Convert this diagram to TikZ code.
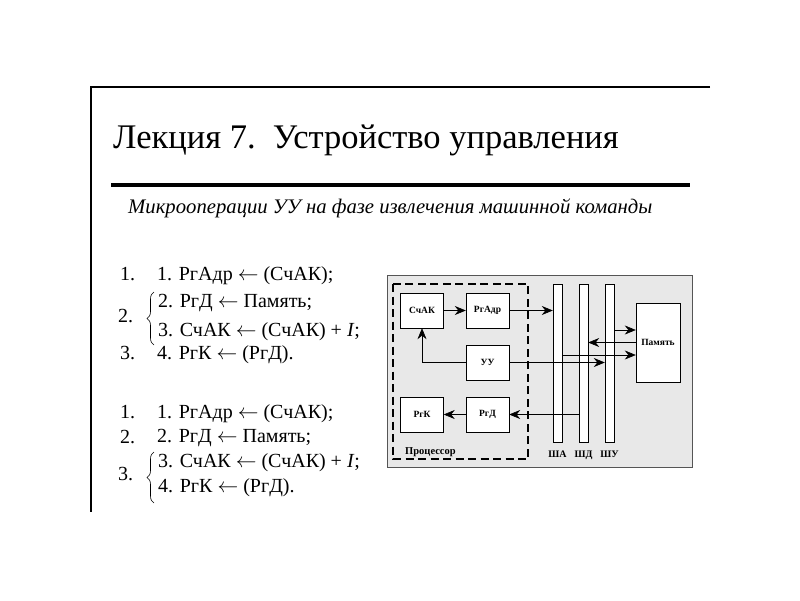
\documentclass[tikz,border=0pt]{standalone}
\usepackage{fontspec}
\setmainfont{Liberation Serif}
\usetikzlibrary{arrows.meta,decorations.pathreplacing}
\definecolor{panelgray}{RGB}{232,232,232}
\definecolor{framegray}{RGB}{85,85,85}
\newcommand{\la}{$\leftarrow$}
\tikzset{
  blk/.style={draw,fill=white,minimum width=43pt,minimum height=35pt,inner sep=0pt,font=\bfseries\fontsize{9.5}{11}\selectfont},
  bus/.style={draw,fill=white,minimum width=9pt,minimum height=158pt,inner sep=0pt},
  buslbl/.style={anchor=base,font=\bfseries\fontsize{10}{11}\selectfont,inner sep=0pt},
  arr/.style={-{Stealth[length=11pt,width=9pt]},line width=0.6pt},
  op/.style={anchor=base west,font=\fontsize{20}{24}\selectfont,inner sep=0pt},
  brc/.style={decorate,decoration={brace,amplitude=7pt},line width=0.6pt},
}
\begin{document}
\begin{tikzpicture}[x=1pt,y=-1pt]
    \useasboundingbox[fill=white] (0,0) rectangle (800,600);
    % frame and heading
    \draw[line width=1.2pt] (710,87) -- (91,87) -- (91,512);
    \node[anchor=base west,inner sep=0pt,font=\fontsize{34.5}{40}\selectfont] (title) at (113,148) {Лекция 7.\ \ Устройство управления};
    \draw[line width=4.5pt] (111,185) -- (690,185);
    \node[anchor=base west,inner sep=0pt,font=\itshape\fontsize{20.7}{24}\selectfont] (sub) at (128,213) {Микрооперации УУ на фазе извлечения машинной команды};
    % first ordering
    \node[op] (a1) at (120,280) {1.};
    \node[op] (a2) at (118,322) {2.};
    \node[op] (a3) at (120,359) {3.};
    \node[op] (p1) at (157,280) {1. РгАдр \la{} (СчАК);};
    \node[op] (p2) at (158,307) {2. РгД \la{} Память;};
    \node[op] (p3) at (158,336) {3. СчАК \la{} (СчАК) + \textit{I};};
    \node[op] (p4) at (157,359) {4. РгК \la{} (РгД).};
    \draw[brc] (154,345) -- (154,292);
    % second ordering
    \node[op] (b1) at (120,418) {1.};
    \node[op] (b2) at (120,443) {2.};
    \node[op] (b3) at (118,480) {3.};
    \node[op] (q1) at (157,418) {1. РгАдр \la{} (СчАК);};
    \node[op] (q2) at (157,442) {2. РгД \la{} Память;};
    \node[op] (q3) at (158,467) {3. СчАК \la{} (СчАК) + \textit{I};};
    \node[op] (q4) at (158,492) {4. РгК \la{} (РгД).};
    \draw[brc] (154,503) -- (154,452);
    % scheme
    \draw[framegray,fill=panelgray] (387,275) rectangle (692,467);
    \draw[line width=1.8pt,dash pattern=on 8pt off 4.5pt] (393,284) rectangle (528,459);
    \node[anchor=base west,inner sep=0pt,font=\bfseries\fontsize{10.5}{12}\selectfont] (cpu) at (405,454) {Процессор};
    \node[bus] (sha) at (557.5,363) {};
    \node[bus] (shd) at (583.5,363) {};
    \node[bus] (shu) at (609.5,363) {};
    \node[buslbl] at (557.5,457) {ША};
    \node[buslbl] at (583.5,457) {ШД};
    \node[buslbl] at (609.5,457) {ШУ};
    \node[blk] (schak) at (422,310.5) {СчАК};
    \node[blk] (rgadr) at (487.5,310.5) {РгАдр};
    \node[blk] (uu) at (487.5,362.5) {УУ};
    \node[blk] (rgk) at (422,414.5) {РгК};
    \node[blk] (rgd) at (487.5,414.5) {РгД};
    \node[blk,minimum width=44pt,minimum height=79pt] (pam) at (658,342.5) {Память};
    \coordinate (pin) at ([yshift=12.5pt]pam.west);
    \coordinate (pout) at ([yshift=-12.5pt]pam.west);
    \draw[arr] (schak) -- (rgadr);
    \draw[arr] (rgadr.east) -- (rgadr.east -| sha.west);
    \draw[arr] (uu.west) -| (schak.south);
    \draw[arr] (uu.east) -- (uu.east -| shu.west);
    \draw[arr] (pin -| shu.east) -- (pin);
    \draw[arr] (pam.west) -- (pam.west -| shd.east);
    \draw[arr] (pout -| sha.east) -- (pout);
    \draw[arr] (rgd.east -| shd.west) -- (rgd.east);
    \draw[arr] (rgd) -- (rgk);
\end{tikzpicture}
\end{document}
